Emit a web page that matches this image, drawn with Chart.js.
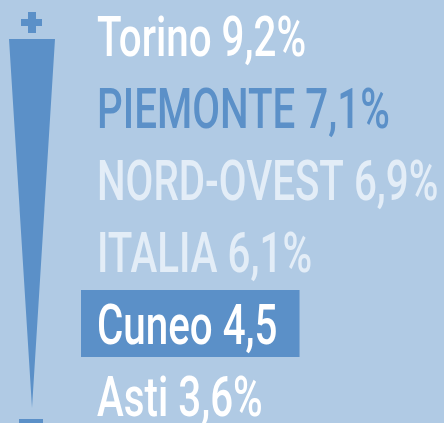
<!DOCTYPE html>
<html>
<head>
<meta charset="utf-8">
<script src="https://cdn.jsdelivr.net/npm/chart.js@4"></script>
<style>
  html, body { margin: 0; padding: 0; background: #b0cae4; }
  #wrap { width: 444px; height: 423px; position: relative; }
</style>
</head>
<body>
<div id="wrap"><canvas id="chart"></canvas></div>
<script>
// data
const places = ['Torino', 'PIEMONTE', 'NORD-OVEST', 'ITALIA', 'Cuneo', 'Asti'];
const rates = [9.2, 7.1, 6.9, 6.1, 4.5, 3.6];
const suffixes = ['%', '%', '%', '%', '', '%'];
const highlighted = 'Cuneo';

const BLUE = '#5b90c8';
const textColors = ['#ffffff', BLUE, '#e3edf7', '#e3edf7', '#ffffff', '#ffffff'];

// draws the wedge, the labels and the highlight box
const labelPlugin = {
  id: 'labels',
  beforeDraw(chart) {
    const { ctx, chartArea } = chart;
    ctx.save();
    ctx.fillStyle = '#b0cae4';
    ctx.fillRect(0, 0, chart.width, chart.height);

    // wedge + / -
    const cx = 32;
    const top = chartArea.top + 3;
    const tip = chartArea.bottom + 12;
    ctx.fillStyle = BLUE;
    ctx.beginPath();
    ctx.moveTo(cx - 23, top);
    ctx.lineTo(cx + 23, top);
    ctx.lineTo(cx, tip);
    ctx.closePath();
    ctx.fill();
    ctx.fillRect(cx - 11, 19, 21, 7);
    ctx.fillRect(cx - 4, 12, 8, 21);
    ctx.fillRect(cx - 13, 419, 24, 4);
    ctx.restore();
  },
  afterDraw(chart) {
    const { ctx, scales } = chart;
    const y = scales.y;
    const x0 = 97;
    const squeeze = 0.72;
    ctx.save();
    ctx.font = '500 56px Roboto, "DejaVu Sans", sans-serif';
    ctx.textBaseline = 'alphabetic';
    places.forEach((name, i) => {
      const label = name + ' ' + rates[i].toFixed(1).replace('.', ',') + suffixes[i];
      const cy = y.getPixelForValue(i);
      const w = ctx.measureText(label).width * squeeze;
      if (name === highlighted) {
        ctx.fillStyle = BLUE;
        ctx.fillRect(x0 - 16, cy - 34, w + 38, 67);
      }
      ctx.save();
      ctx.translate(x0, cy + 20);
      ctx.scale(squeeze, 1);
      ctx.fillStyle = textColors[i];
      ctx.fillText(label, 0, 0);
      ctx.restore();
    });
    ctx.restore();
  }
};

new Chart(document.getElementById('chart'), {
  type: 'bar',
  data: {
    labels: places,
    datasets: [{
      data: rates,
      backgroundColor: 'transparent',
      borderWidth: 0
    }]
  },
  options: {
    indexAxis: 'y',
    responsive: true,
    maintainAspectRatio: false,
    animation: false,
    layout: { padding: { top: 36, bottom: 27, left: 0, right: 0 } },
    plugins: { legend: { display: false }, tooltip: { enabled: false } },
    scales: {
      x: { display: false, min: 0, max: 10 },
      y: { display: false, offset: false }
    }
  },
  plugins: [labelPlugin]
});
</script>
</body>
</html>
